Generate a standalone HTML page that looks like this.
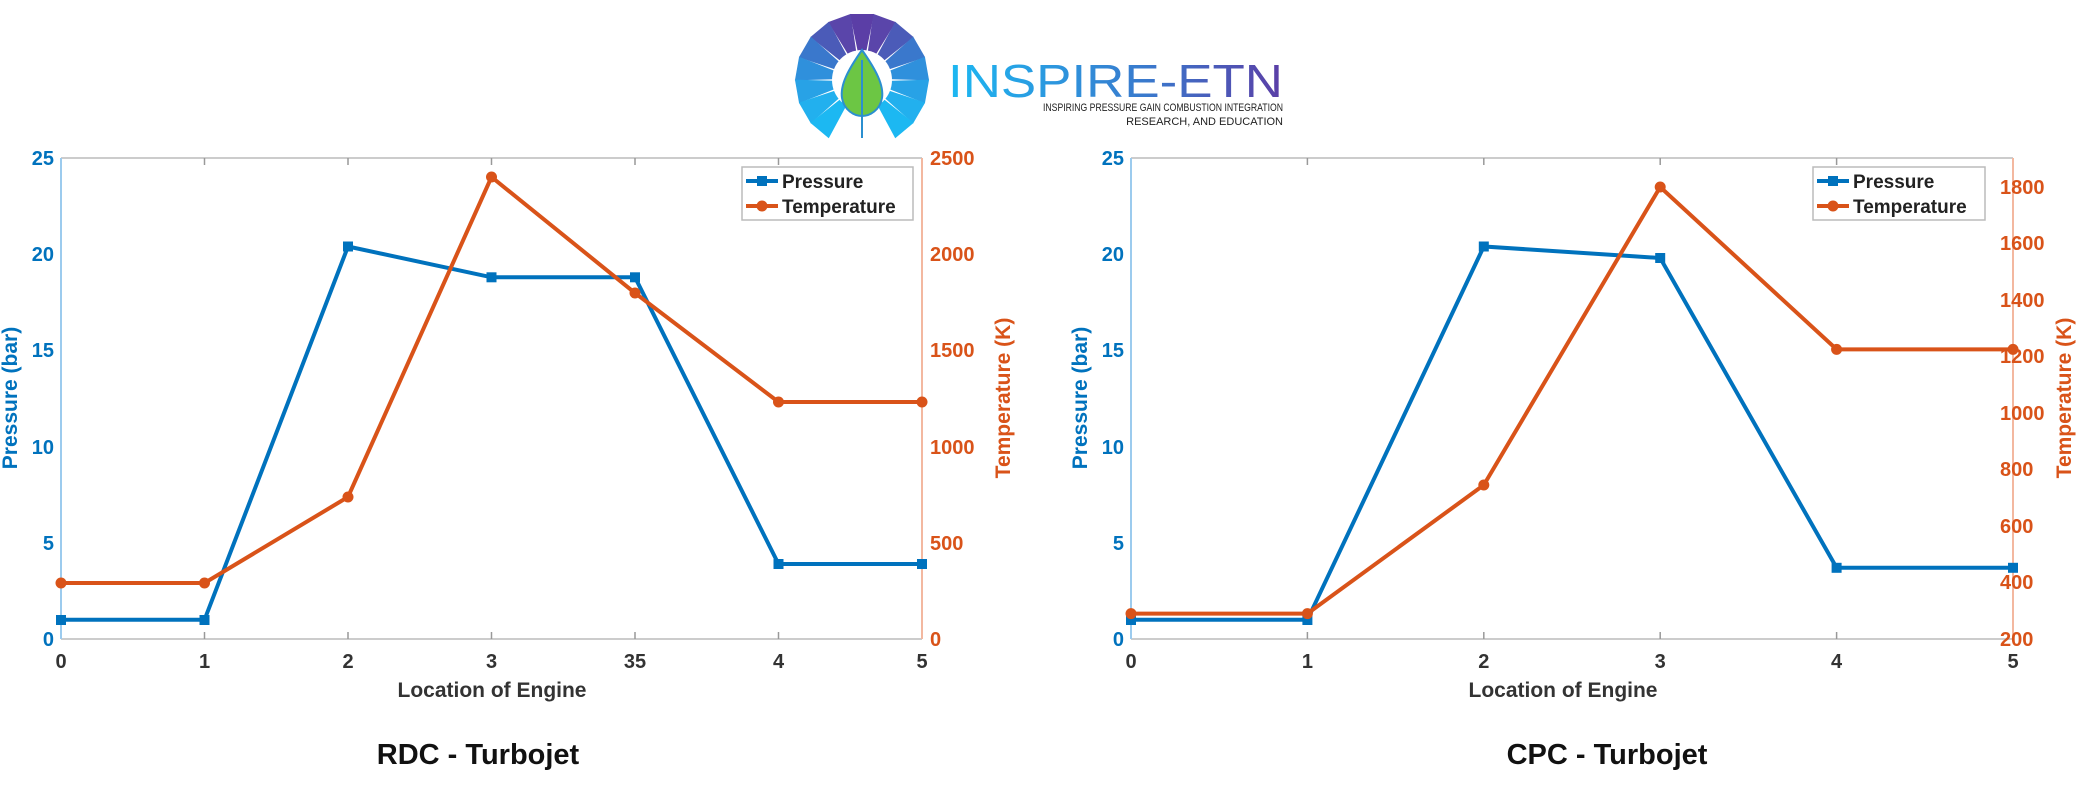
<!DOCTYPE html>
<html><head><meta charset="utf-8"><style>
html,body{margin:0;padding:0;background:#fff;}
svg{display:block;font-family:"Liberation Sans",Arial,sans-serif;}
</style></head><body>
<svg width="2079" height="796" viewBox="0 0 2079 796" xmlns="http://www.w3.org/2000/svg">
<defs>
<linearGradient id="lg" x1="0" x2="1" y1="0" y2="0"><stop offset="0" stop-color="#1cb8f2"/><stop offset="0.6" stop-color="#3a78cc"/><stop offset="1" stop-color="#5b3ea6"/></linearGradient>
</defs>
<rect width="2079" height="796" fill="#fff"/>
<!-- Logo -->
<g transform="translate(862,80)">
    <path d="M0,-8 L-12,-66 L12,-66 Z" fill="#5b3ea6" transform="rotate(0)"/>
    <path d="M0,-8 L-12,-66 L12,-66 Z" fill="#5a45aa" transform="rotate(20)"/>
    <path d="M0,-8 L-12,-66 L12,-66 Z" fill="#5a45aa" transform="rotate(-20)"/>
    <path d="M0,-8 L-12,-66 L12,-66 Z" fill="#4b5bb8" transform="rotate(40)"/>
    <path d="M0,-8 L-12,-66 L12,-66 Z" fill="#4b5bb8" transform="rotate(-40)"/>
    <path d="M0,-8 L-12,-66 L12,-66 Z" fill="#3a78cc" transform="rotate(60)"/>
    <path d="M0,-8 L-12,-66 L12,-66 Z" fill="#3a78cc" transform="rotate(-60)"/>
    <path d="M0,-8 L-12,-66 L12,-66 Z" fill="#2f90dc" transform="rotate(80)"/>
    <path d="M0,-8 L-12,-66 L12,-66 Z" fill="#2f90dc" transform="rotate(-80)"/>
    <path d="M0,-8 L-12,-66 L12,-66 Z" fill="#28a2e6" transform="rotate(100)"/>
    <path d="M0,-8 L-12,-66 L12,-66 Z" fill="#28a2e6" transform="rotate(-100)"/>
    <path d="M0,-8 L-12,-66 L12,-66 Z" fill="#22b0ee" transform="rotate(120)"/>
    <path d="M0,-8 L-12,-66 L12,-66 Z" fill="#22b0ee" transform="rotate(-120)"/>
    <path d="M0,-8 L-12,-66 L12,-66 Z" fill="#1cb8f2" transform="rotate(140)"/>
    <path d="M0,-8 L-12,-66 L12,-66 Z" fill="#1cb8f2" transform="rotate(-140)"/>
  <circle r="30" fill="#fff"/>
  <path d="M0,-30 C14,-10 22,5 20,18 C18,30 8,36 0,36 C-8,36 -18,30 -20,18 C-22,5 -14,-10 0,-30 Z" fill="#6cc644" stroke="#2b8fd0" stroke-width="2"/>
  <line x1="0" y1="-20" x2="0" y2="58" stroke="#2b8fd0" stroke-width="2"/>
</g>
<text x="948" y="97" font-size="46" fill="url(#lg)" textLength="335" lengthAdjust="spacingAndGlyphs">INSPIRE-ETN</text>
<text x="1283" y="111" font-size="11" fill="#222" text-anchor="end" textLength="240" lengthAdjust="spacingAndGlyphs">INSPIRING PRESSURE GAIN COMBUSTION INTEGRATION</text>
<text x="1283" y="125" font-size="11" fill="#222" text-anchor="end">RESEARCH, AND EDUCATION</text>

<!-- LEFT CHART -->
<g>
  <line x1="61" y1="158" x2="922" y2="158" stroke="#ccc" stroke-width="2"/>
  <line x1="61" y1="639" x2="922" y2="639" stroke="#ccc" stroke-width="2"/>
  <line x1="61" y1="158" x2="61" y2="639" stroke="#9ccbee" stroke-width="2"/>
  <line x1="922" y1="158" x2="922" y2="639" stroke="#f3b8a0" stroke-width="2"/>
  <g stroke="#999" stroke-width="1.5">
    <line x1="204.5" y1="639" x2="204.5" y2="632"/><line x1="348" y1="639" x2="348" y2="632"/><line x1="491.5" y1="639" x2="491.5" y2="632"/><line x1="635" y1="639" x2="635" y2="632"/><line x1="778.5" y1="639" x2="778.5" y2="632"/>
    <line x1="204.5" y1="158" x2="204.5" y2="165"/><line x1="348" y1="158" x2="348" y2="165"/><line x1="491.5" y1="158" x2="491.5" y2="165"/><line x1="635" y1="158" x2="635" y2="165"/><line x1="778.5" y1="158" x2="778.5" y2="165"/>
  </g>
  <g font-size="20" font-weight="bold" fill="#0072BD" text-anchor="end">
    <text x="54" y="646">0</text><text x="54" y="550">5</text><text x="54" y="454">10</text><text x="54" y="357">15</text><text x="54" y="261">20</text><text x="54" y="165">25</text>
  </g>
  <g font-size="20" font-weight="bold" fill="#D95319">
    <text x="930" y="646">0</text><text x="930" y="550">500</text><text x="930" y="454">1000</text><text x="930" y="357">1500</text><text x="930" y="261">2000</text><text x="930" y="165">2500</text>
  </g>
  <g font-size="20" font-weight="bold" fill="#333" text-anchor="middle">
    <text x="61" y="668">0</text><text x="204.5" y="668">1</text><text x="348" y="668">2</text><text x="491.5" y="668">3</text><text x="635" y="668">35</text><text x="778.5" y="668">4</text><text x="922" y="668">5</text>
  </g>
  <text x="492" y="697" font-size="21" font-weight="bold" fill="#333" text-anchor="middle">Location of Engine</text>
  <text transform="translate(17,398) rotate(-90)" font-size="21" font-weight="bold" fill="#0072BD" text-anchor="middle">Pressure (bar)</text>
  <text transform="translate(1010,398) rotate(-90)" font-size="21" font-weight="bold" fill="#D95319" text-anchor="middle">Temperature (K)</text>
  <polyline points="61,619.8 204.5,619.8 348,246.5 491.5,277.3 635,277.3 778.5,564 922,564" fill="none" stroke="#0072BD" stroke-width="4"/>
  <g fill="#0072BD"><rect x="56" y="615" width="10" height="10"/><rect x="199.5" y="615" width="10" height="10"/><rect x="343" y="241.5" width="10" height="10"/><rect x="486.5" y="272.3" width="10" height="10"/><rect x="630" y="272.3" width="10" height="10"/><rect x="773.5" y="559" width="10" height="10"/><rect x="917" y="559" width="10" height="10"/></g>
  <polyline points="61,583 204.5,583 348,497 491.5,177 635,293 778.5,402 922,402" fill="none" stroke="#D95319" stroke-width="4"/>
  <g fill="#D95319"><circle cx="61" cy="583" r="5.5"/><circle cx="204.5" cy="583" r="5.5"/><circle cx="348" cy="497" r="5.5"/><circle cx="491.5" cy="177" r="5.5"/><circle cx="635" cy="293" r="5.5"/><circle cx="778.5" cy="402" r="5.5"/><circle cx="922" cy="402" r="5.5"/></g>
  <rect x="742" y="167" width="171" height="53" fill="#fff" stroke="#bbb" stroke-width="1.5"/>
  <line x1="746" y1="181" x2="778" y2="181" stroke="#0072BD" stroke-width="4"/><rect x="757" y="176" width="10" height="10" fill="#0072BD"/>
  <line x1="746" y1="206" x2="778" y2="206" stroke="#D95319" stroke-width="4"/><circle cx="762" cy="206" r="5.5" fill="#D95319"/>
  <text x="782" y="188" font-size="19" font-weight="bold" fill="#222">Pressure</text>
  <text x="782" y="213" font-size="19" font-weight="bold" fill="#222">Temperature</text>
</g>
<text x="478" y="764" font-size="29" font-weight="bold" fill="#111" text-anchor="middle">RDC - Turbojet</text>

<!-- RIGHT CHART -->
<g>
  <line x1="1131" y1="158" x2="2013" y2="158" stroke="#ccc" stroke-width="2"/>
  <line x1="1131" y1="639" x2="2013" y2="639" stroke="#ccc" stroke-width="2"/>
  <line x1="1131" y1="158" x2="1131" y2="639" stroke="#9ccbee" stroke-width="2"/>
  <line x1="2013" y1="158" x2="2013" y2="639" stroke="#f3b8a0" stroke-width="2"/>
  <g stroke="#999" stroke-width="1.5">
    <line x1="1307.4" y1="639" x2="1307.4" y2="632"/><line x1="1483.8" y1="639" x2="1483.8" y2="632"/><line x1="1660.2" y1="639" x2="1660.2" y2="632"/><line x1="1836.6" y1="639" x2="1836.6" y2="632"/>
    <line x1="1307.4" y1="158" x2="1307.4" y2="165"/><line x1="1483.8" y1="158" x2="1483.8" y2="165"/><line x1="1660.2" y1="158" x2="1660.2" y2="165"/><line x1="1836.6" y1="158" x2="1836.6" y2="165"/>
  </g>
  <g font-size="20" font-weight="bold" fill="#0072BD" text-anchor="end">
    <text x="1124" y="646">0</text><text x="1124" y="550">5</text><text x="1124" y="454">10</text><text x="1124" y="357">15</text><text x="1124" y="261">20</text><text x="1124" y="165">25</text>
  </g>
  <g font-size="20" font-weight="bold" fill="#D95319">
    <text x="2000" y="646">200</text><text x="2000" y="589">400</text><text x="2000" y="533">600</text><text x="2000" y="476">800</text><text x="2000" y="420">1000</text><text x="2000" y="363">1200</text><text x="2000" y="307">1400</text><text x="2000" y="250">1600</text><text x="2000" y="194">1800</text>
  </g>
  <g font-size="20" font-weight="bold" fill="#333" text-anchor="middle">
    <text x="1131" y="668">0</text><text x="1307.4" y="668">1</text><text x="1483.8" y="668">2</text><text x="1660.2" y="668">3</text><text x="1836.6" y="668">4</text><text x="2013" y="668">5</text>
  </g>
  <text x="1563" y="697" font-size="21" font-weight="bold" fill="#333" text-anchor="middle">Location of Engine</text>
  <text transform="translate(1087,398) rotate(-90)" font-size="21" font-weight="bold" fill="#0072BD" text-anchor="middle">Pressure (bar)</text>
  <text transform="translate(2071,398) rotate(-90)" font-size="21" font-weight="bold" fill="#D95319" text-anchor="middle">Temperature (K)</text>
  <polyline points="1131,619.8 1307.4,619.8 1483.8,246.5 1660.2,258 1836.6,567.8 2013,567.8" fill="none" stroke="#0072BD" stroke-width="4"/>
  <g fill="#0072BD"><rect x="1126" y="615" width="10" height="10"/><rect x="1302.4" y="615" width="10" height="10"/><rect x="1478.8" y="241.5" width="10" height="10"/><rect x="1655.2" y="253" width="10" height="10"/><rect x="1831.6" y="562.8" width="10" height="10"/><rect x="2008" y="562.8" width="10" height="10"/></g>
  <polyline points="1131,613.6 1307.4,613.6 1483.8,485 1660.2,187 1836.6,349.4 2013,349.4" fill="none" stroke="#D95319" stroke-width="4"/>
  <g fill="#D95319"><circle cx="1131" cy="613.6" r="5.5"/><circle cx="1307.4" cy="613.6" r="5.5"/><circle cx="1483.8" cy="485" r="5.5"/><circle cx="1660.2" cy="187" r="5.5"/><circle cx="1836.6" cy="349.4" r="5.5"/><circle cx="2013" cy="349.4" r="5.5"/></g>
  <rect x="1813" y="167" width="172" height="53" fill="#fff" stroke="#bbb" stroke-width="1.5"/>
  <line x1="1817" y1="181" x2="1849" y2="181" stroke="#0072BD" stroke-width="4"/><rect x="1828" y="176" width="10" height="10" fill="#0072BD"/>
  <line x1="1817" y1="206" x2="1849" y2="206" stroke="#D95319" stroke-width="4"/><circle cx="1833" cy="206" r="5.5" fill="#D95319"/>
  <text x="1853" y="188" font-size="19" font-weight="bold" fill="#222">Pressure</text>
  <text x="1853" y="213" font-size="19" font-weight="bold" fill="#222">Temperature</text>
</g>
<text x="1607" y="764" font-size="29" font-weight="bold" fill="#111" text-anchor="middle">CPC - Turbojet</text>
</svg>
</body></html>
